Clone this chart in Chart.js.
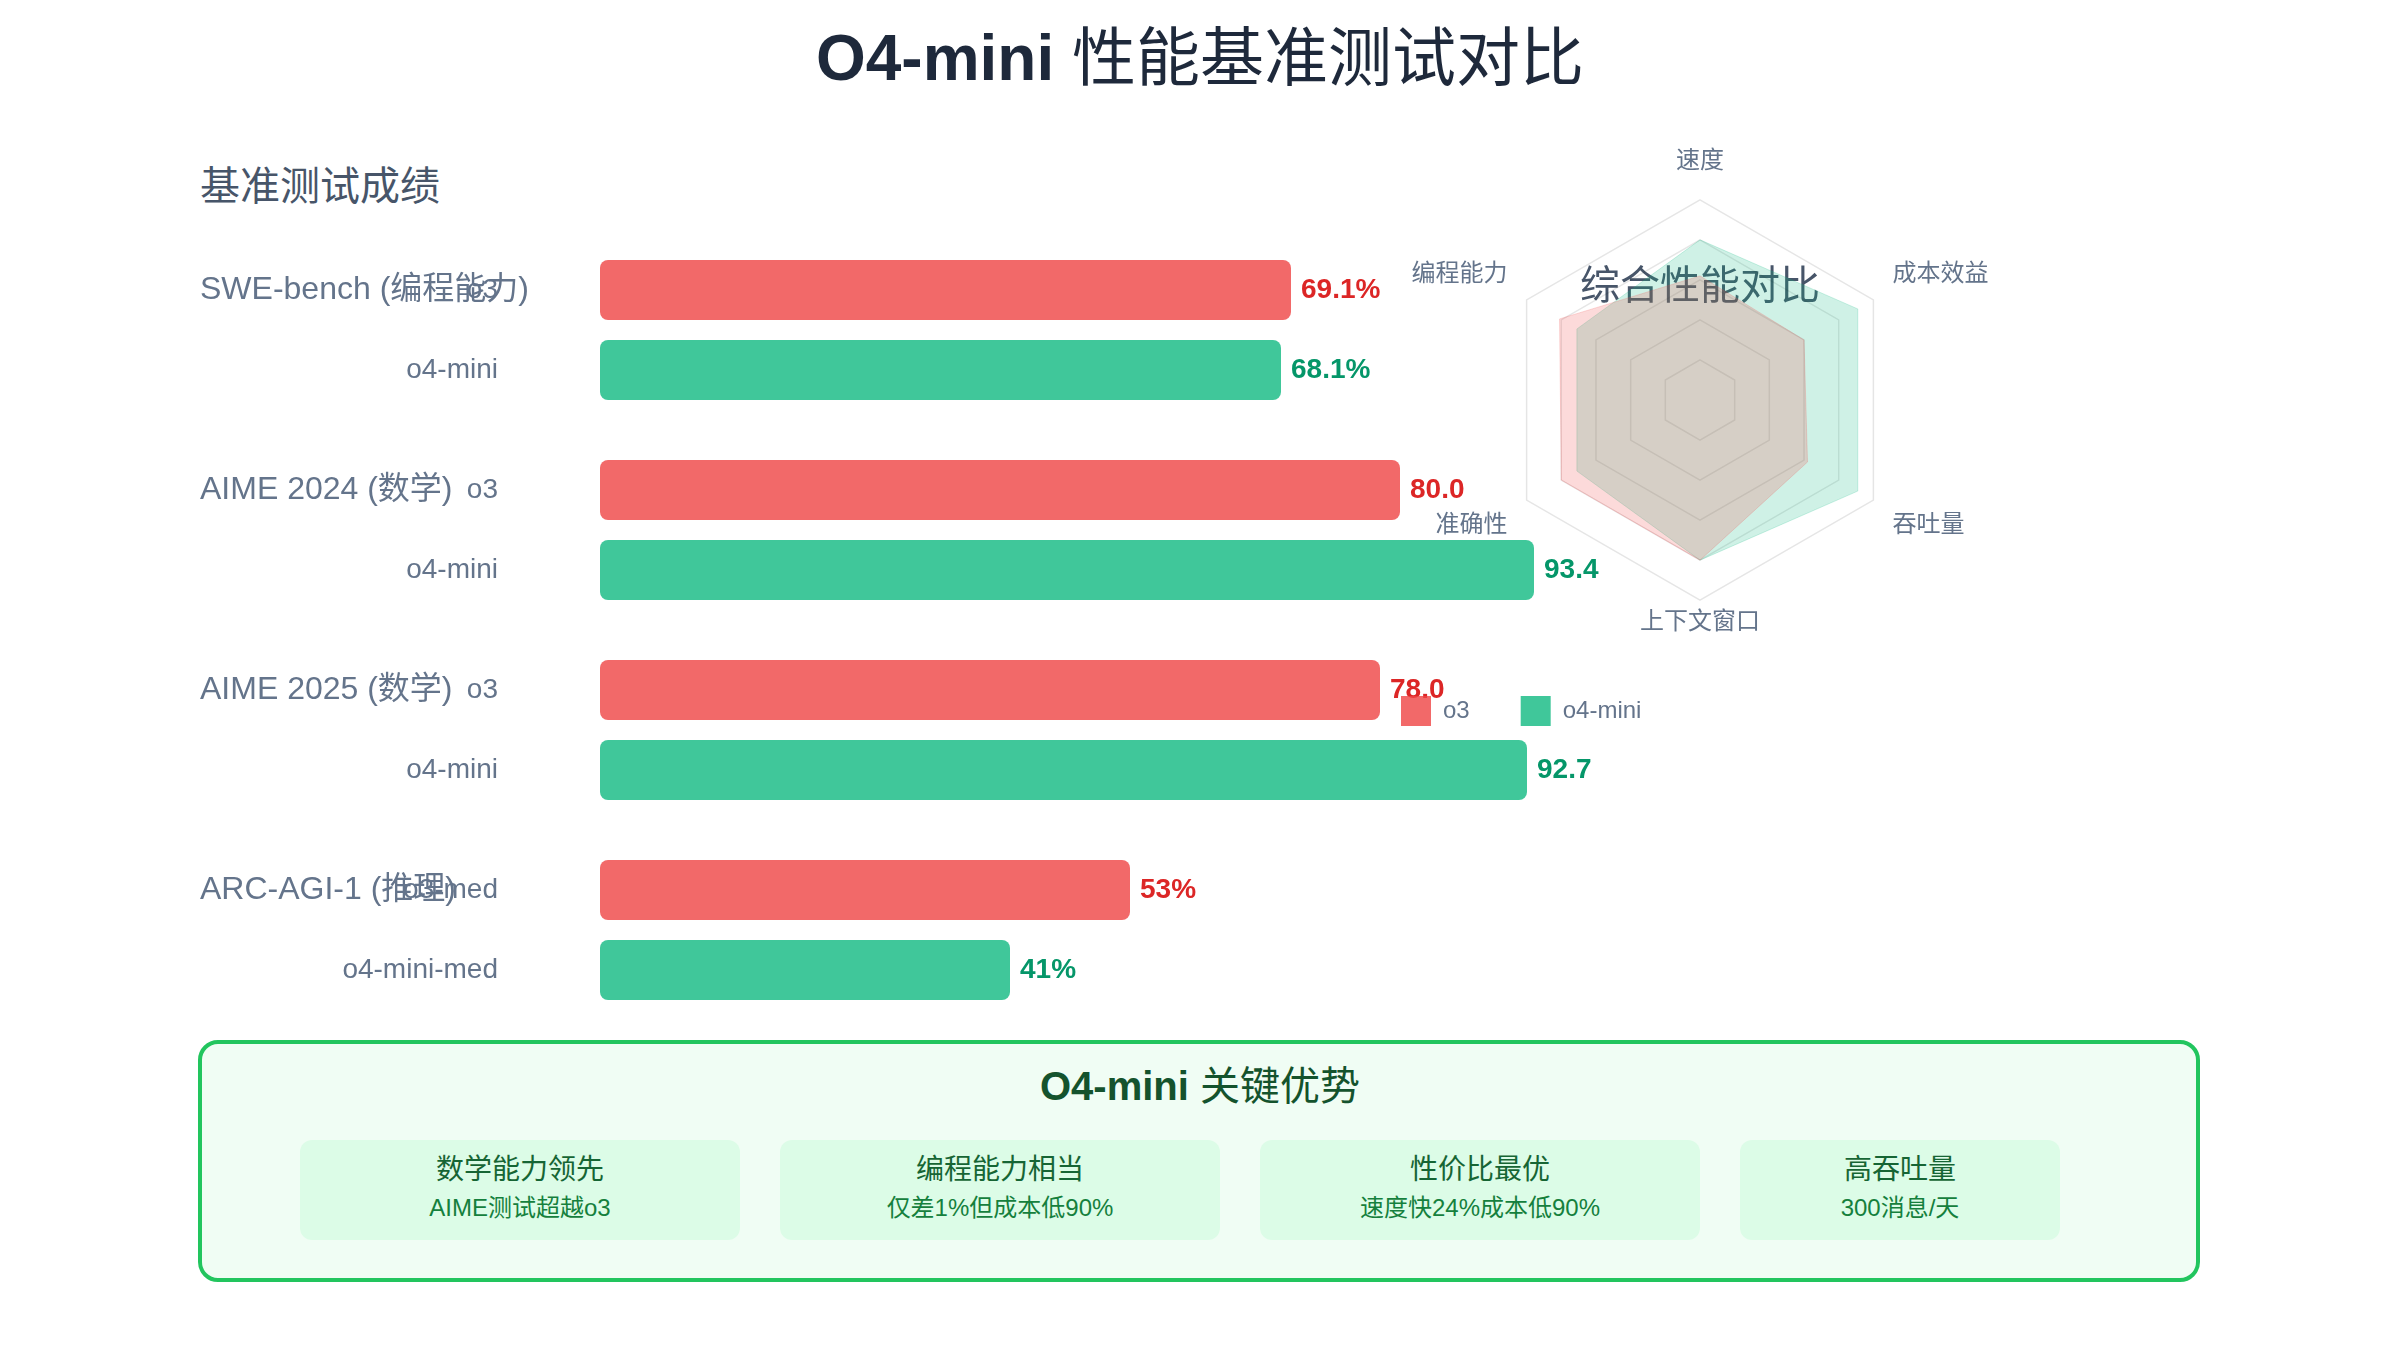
<!DOCTYPE html>
<html lang="zh-CN">
<head>
<meta charset="utf-8">
<title>O4-mini 性能基准测试对比</title>
<script src="https://cdn.jsdelivr.net/npm/chart.js@4.4.0/dist/chart.umd.min.js"></script>
<style>
  html, body { margin: 0; padding: 0; background: #fff; }
  body {
    width: 2400px; height: 1350px; position: relative; overflow: hidden;
    font-family: "Liberation Sans", "Noto Sans CJK SC", sans-serif;
  }
  .abs { position: absolute; }
  .cjk { font-weight: normal; }
  #title { left: 0; top: 18px; width: 2400px; text-align: center; font-size: 64px; line-height: 80px; font-weight: bold; color: #1e293b; }
  #benchHead { left: 200px; top: 162px; font-size: 40px; line-height: 48px; color: #475569; }
  #barChart { left: 0; top: 230px; z-index: 1; }
  #radarTitle { left: 1500px; top: 261px; width: 400px; text-align: center; font-size: 40px; line-height: 48px; color: #475569; z-index: 2; }
  #radarChart { left: 1350px; top: 139px; z-index: 3; }
  #advBox { left: 198px; top: 1040px; width: 2002px; height: 242px; box-sizing: border-box; border: 4px solid #22c55e; border-radius: 20px; background: #f0fdf4; }
  #advTitle { left: 0; top: 1062px; width: 2400px; text-align: center; font-size: 40px; line-height: 48px; font-weight: bold; color: #14532d; }
  .card { position: absolute; top: 1140px; height: 100px; background: #dcfce7; border-radius: 12px; text-align: center; }
  .card .ct { position: absolute; left: 0; right: 0; top: 12px; font-size: 28px; line-height: 36px; color: #166534; }
  .card .cs { position: absolute; left: 0; right: 0; top: 53px; font-size: 24px; line-height: 30px; color: #15803d; }
</style>
</head>
<body>
<div id="title" class="abs">O4-mini <span class="cjk">性能基准测试对比</span></div>
<div id="benchHead" class="abs">基准测试成绩</div>
<canvas id="barChart" class="abs" width="1640" height="800"></canvas>
<div id="radarTitle" class="abs">综合性能对比</div>
<canvas id="radarChart" class="abs" width="700" height="597"></canvas>

<div id="advBox" class="abs"></div>
<div id="advTitle" class="abs">O4-mini <span class="cjk">关键优势</span></div>
<div class="card" style="left:300px;width:440px"><div class="ct">数学能力领先</div><div class="cs">AIME测试超越o3</div></div>
<div class="card" style="left:780px;width:440px"><div class="ct">编程能力相当</div><div class="cs">仅差1%但成本低90%</div></div>
<div class="card" style="left:1260px;width:440px"><div class="ct">性价比最优</div><div class="cs">速度快24%成本低90%</div></div>
<div class="card" style="left:1740px;width:320px"><div class="ct">高吞吐量</div><div class="cs">300消息/天</div></div>

<script>
// benchmark scores
const benchmarks = ["SWE-bench (编程能力)", "AIME 2024 (数学)", "AIME 2025 (数学)", "ARC-AGI-1 (推理)"];
const o3Names = ["o3", "o3", "o3", "o3-med"];
const o4Names = ["o4-mini", "o4-mini", "o4-mini", "o4-mini-med"];
const o3Scores = [69.1, 80.0, 78.0, 53];
const o4Scores = [68.1, 93.4, 92.7, 41];
const scoreSuffix = ["%", "", "", "%"];
const scoreDecimals = [1, 1, 1, 0];

// radar
const modelNames = ["o3", "o4-mini"];
const radarAxes = ["速度", "成本效益", "吞吐量", "上下文窗口", "准确性", "编程能力"];
const radarO3 = [62, 60, 62, 80, 80, 81];
const radarO4 = [80, 91, 91, 80, 71, 71];

const FONT = "'Liberation Sans', 'Noto Sans CJK SC', sans-serif";
Chart.defaults.font.family = FONT;

const RED = "rgba(239, 68, 68, 0.8)";
const GREEN = "rgba(16, 185, 129, 0.8)";
const valueColors = ["#dc2626", "#059669"];
const names = [o3Names, o4Names];

// draws the group names, model names and the values next to each bar
const barLabels = {
  id: "barLabels",
  afterDatasetsDraw(chart) {
    const ctx = chart.ctx;
    ctx.save();
    ctx.textBaseline = "middle";
    const first = chart.getDatasetMeta(0).data;
    ctx.font = "32px " + FONT;
    ctx.fillStyle = "#64748b";
    ctx.textAlign = "left";
    first.forEach((bar, i) => ctx.fillText(benchmarks[i], 200, bar.y));

    chart.data.datasets.forEach((ds, di) => {
      chart.getDatasetMeta(di).data.forEach((bar, i) => {
        ctx.font = "28px " + FONT;
        ctx.fillStyle = "#64748b";
        ctx.textAlign = "right";
        ctx.fillText(names[di][i], 498, bar.y);

        ctx.font = "bold 28px " + FONT;
        ctx.fillStyle = valueColors[di];
        ctx.textAlign = "left";
        ctx.fillText(ds.data[i].toFixed(scoreDecimals[i]) + scoreSuffix[i], bar.x + 10, bar.y);
      });
    });
    ctx.restore();
  }
};

new Chart(document.getElementById("barChart"), {
  type: "bar",
  data: {
    labels: benchmarks,
    datasets: [
      { label: modelNames[0], data: o3Scores, backgroundColor: RED },
      { label: modelNames[1], data: o4Scores, backgroundColor: GREEN }
    ]
  },
  options: {
    indexAxis: "y",
    responsive: false,
    animation: false,
    layout: { padding: { left: 600, right: 40, top: 0, bottom: 0 } },
    datasets: {
      bar: { borderRadius: 8, borderSkipped: false, categoryPercentage: 0.8, barPercentage: 0.75 }
    },
    scales: {
      x: { display: false, min: 0, max: 100 },
      y: { display: false }
    },
    plugins: { legend: { display: false }, tooltip: { enabled: false } }
  },
  plugins: [barLabels]
});

const labelPad = [24, 22, 22, 8, 22, 22];

new Chart(document.getElementById("radarChart"), {
  type: "radar",
  data: {
    labels: radarAxes,
    datasets: [
      { label: modelNames[0], data: radarO3, backgroundColor: "rgba(239, 68, 68, 0.2)", borderColor: "rgba(239, 68, 68, 0.2)", borderWidth: 1, pointRadius: 0 },
      { label: modelNames[1], data: radarO4, backgroundColor: "rgba(16, 185, 129, 0.2)", borderColor: "rgba(16, 185, 129, 0.2)", borderWidth: 1, pointRadius: 0 }
    ]
  },
  options: {
    responsive: false,
    animation: false,
    scales: {
      r: {
        min: 0,
        max: 100,
        ticks: { display: false, stepSize: 20 },
        angleLines: { display: false },
        grid: { color: "rgba(0, 0, 0, 0.1)", lineWidth: 1.5 },
        pointLabels: {
          color: "#64748b",
          font: { size: 24 },
          padding: (c) => labelPad[c.index]
        }
      }
    },
    plugins: {
      tooltip: { enabled: false },
      legend: {
        position: "bottom",
        align: "start",
        labels: {
          boxWidth: 30,
          boxHeight: 30,
          padding: 51,
          color: "#64748b",
          font: { size: 24 },
          generateLabels(chart) {
            const items = Chart.defaults.plugins.legend.labels.generateLabels(chart);
            items.forEach((it) => {
              it.fillStyle = [RED, GREEN][it.datasetIndex];
              it.strokeStyle = "transparent";
              it.lineWidth = 0;
            });
            return items;
          }
        }
      }
    }
  }
});
</script>
</body>
</html>
